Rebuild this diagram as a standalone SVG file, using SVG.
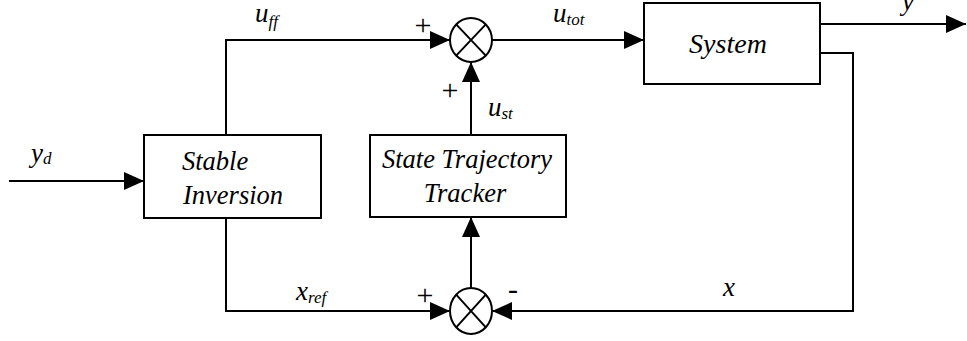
<svg xmlns="http://www.w3.org/2000/svg" width="967" height="341" viewBox="0 0 967 341">
<style>
.box{fill:#fff;stroke:#000;stroke-width:2}
.ln{fill:none;stroke:#000;stroke-width:2}
text{font-family:'Liberation Serif','Times New Roman',serif;fill:#000}
.t{font-style:italic;font-size:26.5px}
.lab{font-style:italic;font-size:27px}
.sub{font-size:17px}
.sg{font-size:30px;text-anchor:middle}
</style>
<defs>
<marker id="ah" viewBox="0 0 20 18" refX="20" refY="9" markerWidth="20" markerHeight="18" markerUnits="userSpaceOnUse" orient="auto">
<path d="M0,0 L20,9 L0,18 z" fill="#000"/>
</marker>
</defs>
<rect width="967" height="341" fill="#fff"/>
<g id="connectors">
<path class="ln" d="M9,181 H144" marker-end="url(#ah)"/>
<path class="ln" d="M226,135 V40 H450" marker-end="url(#ah)"/>
<path class="ln" d="M226,218 V311 H450" marker-end="url(#ah)"/>
<path class="ln" d="M492,40 H644" marker-end="url(#ah)"/>
<path class="ln" d="M820,24 H966" marker-end="url(#ah)"/>
<path class="ln" d="M820,53 H853 V311 H492" marker-end="url(#ah)"/>
<path class="ln" d="M471,135 V62" marker-end="url(#ah)"/>
<path class="ln" d="M471,288 V217" marker-end="url(#ah)"/>
</g>
<g id="stable-inversion">
<rect class="box" x="144" y="135" width="177" height="83"/>
<text class="t" x="182" y="170">Stable</text>
<text class="t" x="183" y="204">Inversion</text>
</g>
<g id="sum-top">
<ellipse class="ln" cx="471" cy="40" rx="21" ry="22"/>
<path class="ln" d="M456.2,24.4 L485.8,55.6 M485.8,24.4 L456.2,55.6"/>
</g>
<g id="sum-bottom">
<ellipse class="ln" cx="471" cy="311" rx="21" ry="23"/>
<path class="ln" d="M456.2,294.7 L485.8,327.3 M485.8,294.7 L456.2,327.3"/>
</g>
<g id="tracker">
<rect class="box" x="370" y="135" width="196" height="82"/>
<text class="t" x="467" y="168" text-anchor="middle">State Trajectory</text>
<text class="t" x="465" y="202" text-anchor="middle">Tracker</text>
</g>
<g id="system">
<rect class="box" x="644" y="3" width="176" height="81"/>
<text class="t" x="728" y="53" text-anchor="middle" style="font-size:28px">System</text>
</g>
<g id="labels">
<text class="lab" x="255" y="22">u<tspan class="sub" dy="5">ff</tspan></text>
<text class="lab" x="553" y="22">u<tspan class="sub" dy="3">tot</tspan></text>
<text class="lab" x="488" y="116">u<tspan class="sub" dy="3">st</tspan></text>
<text class="lab" x="31" y="162">y<tspan class="sub" dy="2">d</tspan></text>
<text class="lab" x="296" y="300">x<tspan class="sub" dy="3">ref</tspan></text>
<text class="lab" x="723" y="296">x</text>
<text class="lab" x="902" y="10">y</text>
<text class="sg" x="423" y="35">+</text>
<text class="sg" x="450" y="100">+</text>
<text class="sg" x="425" y="305">+</text>
<text class="sg" x="513" y="299">-</text>
</g>
</svg>
